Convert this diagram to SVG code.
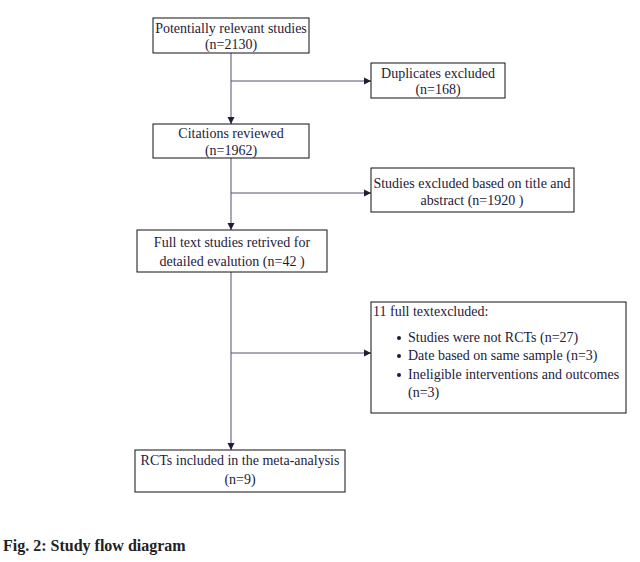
<svg xmlns="http://www.w3.org/2000/svg" width="640" height="562" viewBox="0 0 640 562">
<style>
.box{fill:#fff;stroke:#111;stroke-width:1}
text{font-family:'Liberation Serif',Tinos,'Times New Roman',serif}
.t{font-size:14px;fill:#1e1a3a}
.c{text-anchor:middle}
.ln{stroke:#5a4a70;stroke-width:1;fill:none}
.cap{font-size:16px;font-weight:bold;fill:#222}
</style>
<defs>
<marker id="ah" markerWidth="8" markerHeight="8" refX="7" refY="4" orient="auto" markerUnits="userSpaceOnUse">
<path d="M0,0.5 L7,4 L0,7.5 Z" fill="#231a3a"/>
</marker>
</defs>
<rect width="640" height="562" fill="#fff"/>
<g id="connectors">
<line class="ln" x1="231" y1="53" x2="231" y2="124" marker-end="url(#ah)"/>
<line class="ln" x1="231" y1="81" x2="371" y2="81" marker-end="url(#ah)"/>
<line class="ln" x1="231" y1="158" x2="231" y2="230" marker-end="url(#ah)"/>
<line class="ln" x1="231" y1="193" x2="371" y2="193" marker-end="url(#ah)"/>
<line class="ln" x1="231" y1="272" x2="231" y2="450" marker-end="url(#ah)"/>
<line class="ln" x1="231" y1="353" x2="371" y2="353" marker-end="url(#ah)"/>
</g>
<g id="n1">
<rect class="box" x="153" y="18" width="156" height="35"/>
<text class="t c" x="231" y="33">Potentially relevant studies</text>
<text class="t c" x="231" y="49">(n=2130)</text>
</g>
<g id="n2">
<rect class="box" x="371" y="63" width="134" height="35"/>
<text class="t c" x="438" y="78">Duplicates excluded</text>
<text class="t c" x="438" y="94">(n=168)</text>
</g>
<g id="n3">
<rect class="box" x="153" y="124" width="156" height="34"/>
<text class="t c" x="231" y="138">Citations reviewed</text>
<text class="t c" x="231" y="155">(n=1962)</text>
</g>
<g id="n4">
<rect class="box" x="371" y="168" width="203" height="44"/>
<text class="t c" x="472" y="188">Studies excluded based on title and</text>
<text class="t c" x="472" y="205">abstract (n=1920 )</text>
</g>
<g id="n5">
<rect class="box" x="137" y="230" width="190" height="42"/>
<text class="t c" x="232" y="247">Full text studies retrived for</text>
<text class="t c" x="232" y="266">detailed evalution (n=42 )</text>
</g>
<g id="n6">
<rect class="box" x="371" y="302" width="255" height="111"/>
<text class="t" x="373" y="316">11 full textexcluded:</text>
<circle cx="399" cy="338" r="2" fill="#1e1a3a"/>
<text class="t" x="408" y="342">Studies were not RCTs (n=27)</text>
<circle cx="399" cy="356" r="2" fill="#1e1a3a"/>
<text class="t" x="408" y="360">Date based on same sample (n=3)</text>
<circle cx="399" cy="375" r="2" fill="#1e1a3a"/>
<text class="t" x="408" y="379">Ineligible interventions and outcomes</text>
<text class="t" x="408" y="397">(n=3)</text>
</g>
<g id="n7">
<rect class="box" x="135" y="450" width="210" height="42"/>
<text class="t c" x="240" y="465">RCTs included in the meta-analysis</text>
<text class="t c" x="240" y="484">(n=9)</text>
</g>
<text class="cap" x="3" y="551">Fig. 2: Study flow diagram</text>
</svg>
